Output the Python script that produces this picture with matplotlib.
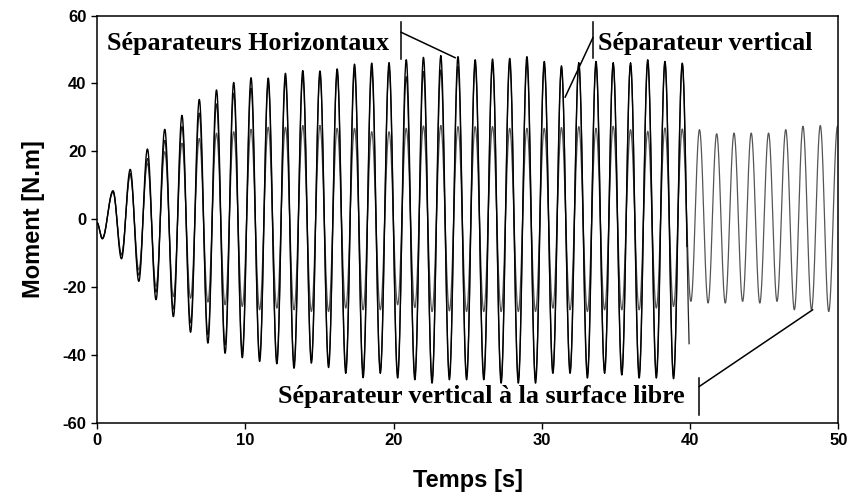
import numpy as np
import matplotlib
matplotlib.use("Agg")
import matplotlib.pyplot as plt

plt.rcParams["axes.unicode_minus"] = False

# times of the maxima / minima (s)
t_peaks = [1.08, 2.24, 3.40, 4.57, 5.73, 6.90, 8.06, 9.22, 10.39, 11.55, 12.71, 13.88, 15.04, 16.20,
           17.37, 18.53, 19.70, 20.86, 22.02, 23.19, 24.35, 25.51, 26.68, 27.84, 29.00, 30.17, 31.33,
           32.50, 33.66, 34.82, 35.99, 37.15, 38.31, 39.48, 40.64, 41.80, 42.97, 44.13, 45.30, 46.46,
           47.62, 48.79, 49.95]
t_troughs = [0.36, 1.65, 2.82, 3.98, 5.15, 6.31, 7.48, 8.64, 9.80, 10.97, 12.13, 13.29, 14.46, 15.62,
             16.78, 17.95, 19.11, 20.28, 21.44, 22.60, 23.77, 24.93, 26.09, 27.26, 28.42, 29.58, 30.75,
             31.91, 33.08, 34.24, 35.40, 36.57, 37.73, 38.89, 40.06, 41.22, 42.38, 43.55, 44.71, 45.87,
             47.04, 48.20, 49.36]

# separateurs horizontaux (outer curve, stops at 40 s)
h_peaks = [8.4, 14.7, 20.7, 26.5, 30.6, 35.3, 38.1, 40.3, 41.7, 41.6, 43.0, 43.8, 43.7, 44.3, 45.7,
           46.0, 46.0, 47.0, 47.7, 48.1, 47.9, 47.0, 47.2, 47.4, 47.9, 46.5, 45.2, 46.0, 46.5, 46.0,
           46.0, 47.0, 46.5, 46.0]
h_troughs = [-5.75, -11.65, -18.3, -23.7, -28.7, -33.3, -36.5, -39.5, -40.8, -41.9, -42.6, -43.9,
             -42.4, -43.7, -45.4, -46.7, -45.4, -46.8, -47.3, -48.3, -47.3, -47.3, -47.3, -48.3,
             -48.3, -48.3, -45.4, -45.4, -46.8, -45.4, -45.9, -46.8, -46.8, -47.0, -47.0]

# separateur vertical (stops at 40 s)
v_peaks = [8.0, 13.5, 17.9, 23.2, 27.3, 31.2, 34.0, 37.1, 38.6, 40.0, 41.0, 42.0, 42.5, 43.0, 43.5,
           44.0, 44.5, 42.0, 43.5, 44.0, 45.0, 45.5, 45.5, 46.0, 46.0, 45.0, 44.5, 45.5, 45.5, 45.5,
           45.5, 46.0, 46.0, 45.5]
v_troughs = [-5.5, -10.5, -16.5, -21.5, -26.5, -30.5, -34.0, -37.0, -39.0, -40.5, -41.5, -42.5,
             -41.5, -42.5, -44.0, -45.0, -44.5, -45.5, -46.0, -47.0, -46.0, -46.0, -46.0, -47.0,
             -47.0, -47.0, -44.5, -44.5, -45.5, -44.5, -45.0, -45.5, -45.5, -46.0, -46.0]

# separateur vertical a la surface libre (runs to 50 s)
s_peaks = [8.2, 13.0, 16.5, 19.9, 22.4, 23.8, 25.3, 25.8, 26.5, 27.1, 27.1, 27.5, 27.5, 26.8, 26.8,
           25.8, 25.8, 26.8, 27.5, 27.5, 27.3, 27.3, 27.3, 26.8, 26.8, 26.8, 27.0, 27.3, 26.8, 27.4,
           26.4, 25.9, 26.9, 26.6, 26.4, 25.2, 25.4, 25.4, 25.4, 26.4, 27.4, 27.6, 27.4]
s_troughs = [-5.75, -10.5, -14.9, -19.8, -22.8, -23.3, -24.4, -25.2, -25.7, -26.7, -26.2, -26.7,
             -27.2, -27.2, -26.2, -26.7, -26.7, -25.2, -26.0, -27.2, -27.0, -27.2, -27.2, -27.2,
             -27.2, -27.2, -26.2, -26.7, -27.2, -26.7, -26.7, -26.7, -26.2, -25.7, -24.2, -24.7,
             -24.7, -24.2, -24.7, -24.2, -26.7, -26.7, -27.2]

t_start, v_start = 0.0, -1.0


def wave(peaks, troughs, t_end):
    # alternate trough / peak and join them with half cosine arcs
    tt = [t_start]
    vv = [v_start]
    for i in range(len(troughs)):
        tt.append(t_troughs[i]); vv.append(troughs[i])
        if i < len(peaks):
            tt.append(t_peaks[i]); vv.append(peaks[i])
    xs, ys = [], []
    for k in range(len(tt) - 1):
        s = np.linspace(0, 1, 30)
        xs.append(tt[k] + (tt[k+1] - tt[k]) * s)
        ys.append(vv[k] + (vv[k+1] - vv[k]) * (1 - np.cos(np.pi * s)) / 2)
    x = np.concatenate(xs)
    y = np.concatenate(ys)
    m = x <= t_end
    return x[m], y[m]


fig = plt.figure(figsize=(8.51, 5.04), dpi=100)
ax = fig.add_axes([0.114, 0.161, 0.871, 0.808])

x, y = wave(s_peaks, s_troughs, 50)
ax.plot(x, y, color="#555555", lw=0.9)
x, y = wave(v_peaks, v_troughs, 39.95)
ax.plot(x, y, color="#222222", lw=0.9)
x, y = wave(h_peaks, h_troughs, 39.8)
ax.plot(x, y, color="#000000", lw=1.0)

ax.set_xlim(0, 50)
ax.set_ylim(-60, 60)
ax.set_xticks([0, 10, 20, 30, 40, 50])
ax.set_yticks([-60, -40, -20, 0, 20, 40, 60])
ax.tick_params(direction="out", length=4, width=1, top=False, right=False, labelsize=12)
for lab in ax.get_xticklabels() + ax.get_yticklabels():
    lab.set_fontweight("bold")
    lab.set_family("Liberation Sans")
for sp in ax.spines.values():
    sp.set_linewidth(1.1)

ax.set_xlabel("Temps [s]", fontsize=17, fontweight="bold", family="Liberation Sans", labelpad=15)
ax.set_ylabel("Moment [N.m]", fontsize=17, fontweight="bold", family="Liberation Sans", labelpad=13)

# annotations
tf = dict(family="Liberation Serif", fontweight="bold", fontsize=18.8)
ax.text(0.67, 51.8, "Séparateurs Horizontaux", va="center", ha="left", **tf)
ax.plot([20.51, 20.51], [58.0, 47.1], color="black", lw=1.1)
ax.plot([20.51, 24.16], [55.1, 47.6], color="black", lw=1.1)

ax.text(33.8, 51.8, "Séparateur vertical", va="center", ha="left", **tf)
ax.plot([33.45, 33.45], [58.0, 47.4], color="black", lw=1.1)
ax.plot([33.45, 31.58], [53.5, 36.0], color="black", lw=1.1)

ax.text(12.19, -52.3, "Séparateur vertical à la surface libre", va="center", ha="left", **tf)
ax.plot([40.62, 40.62], [-46.7, -57.7], color="black", lw=1.1)
ax.plot([40.62, 48.27], [-49.3, -26.7], color="black", lw=1.1)

plt.savefig("out.png", dpi=100)
